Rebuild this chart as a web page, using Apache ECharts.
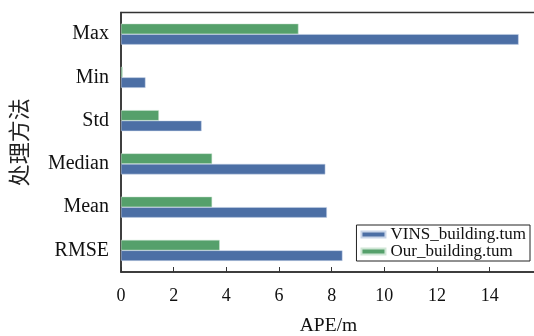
<!DOCTYPE html>
<html><head><meta charset="utf-8">
<script src="https://cdn.jsdelivr.net/npm/echarts@6/dist/echarts.min.js"></script>
<style>html,body{margin:0;padding:0;background:#fff}#c{width:534px;height:336px}</style>
</head><body><div id="c"></div>
<script>
const categories = ['RMSE', 'Mean', 'Median', 'Std', 'Min', 'Max'];
const vinsValues = [8.41, 7.82, 7.76, 3.06, 0.93, 15.10];
const ourValues = [3.75, 3.46, 3.46, 1.44, 0.06, 6.74];
const seriesNames = ['VINS_building.tum', 'Our_building.tum'];
const xTicks = [0, 2, 4, 6, 8, 10, 12, 14];

const serif = 'Liberation Serif';
const chart = echarts.init(document.getElementById('c'));
chart.setOption({
  animation: false,
  grid: { left: 121, top: 12.5, right: -2, bottom: 64, show: true, borderColor: '#333', borderWidth: 1.5,
    outerBoundsMode: 'none', containLabel: false },
  legend: {
    data: seriesNames, orient: 'vertical', right: 4, top: 225,
    borderColor: '#222', borderWidth: 1, padding: [1, 4, 1, 4], itemGap: 0,
    itemWidth: 24, itemHeight: 6, icon: 'rect',
    textStyle: { fontFamily: serif, fontSize: 17, color: '#111' }
  },
  xAxis: {
    type: 'value', min: 0, max: 15.76, interval: 2,
    name: 'APE/m', nameLocation: 'middle', nameGap: 44,
    nameTextStyle: { fontFamily: serif, fontSize: 19.5, color: '#111' },
    axisLine: { show: true, lineStyle: { color: '#333', width: 1.5 } },
    axisTick: { show: true, inside: true, length: 5, lineStyle: { color: '#333' } },
    axisLabel: { margin: 15, fontFamily: serif, fontSize: 18, color: '#111', showMaxLabel: false,
      formatter: v => xTicks.indexOf(v) >= 0 ? String(v) : '' },
    splitLine: { show: false }
  },
  yAxis: {
    type: 'category', data: categories,
    name: '处理方法', nameLocation: 'middle', nameGap: 91,
    nameTextStyle: { fontFamily: 'Noto Sans CJK SC', fontSize: 22, color: '#222' },
    axisLine: { show: true, lineStyle: { color: '#333', width: 1.5 } },
    axisTick: { show: false },
    axisLabel: { margin: 12, fontFamily: serif, fontSize: 20, color: '#111' }
  },
  series: [
    { name: seriesNames[1], type: 'bar', data: ourValues, barWidth: 10.5, barGap: '0%',
      itemStyle: { color: '#55A06B', borderColor: '#cfe6d5', borderWidth: 0.5 } },
    { name: seriesNames[0], type: 'bar', data: vinsValues, barWidth: 10.5, barGap: '0%',
      itemStyle: { color: '#4C6FA5', borderColor: '#c9d5e8', borderWidth: 0.5 } }
  ]
});
</script></body></html>
